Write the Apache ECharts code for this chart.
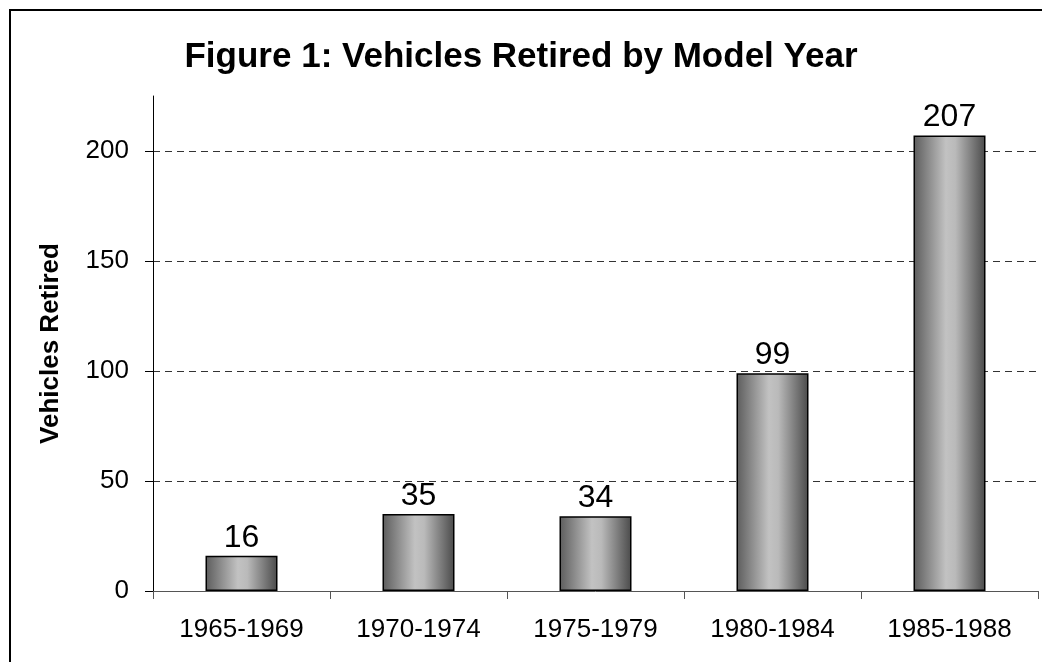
<!DOCTYPE html>
<html>
<head>
<meta charset="utf-8">
<script src="https://cdn.jsdelivr.net/npm/echarts@6/dist/echarts.min.js"></script>
<style>
html,body{margin:0;padding:0;background:#fff;}
#main{width:1042px;height:662px;}
</style>
</head>
<body>
<div id="main"></div>
<script>
const titleText = 'Figure 1: Vehicles Retired by Model Year';
const yAxisName = 'Vehicles Retired';
const categories = ['1965-1969', '1970-1974', '1975-1979', '1980-1984', '1985-1988'];
const vehiclesRetired = [16, 35, 34, 99, 207];
const yTicks = [0, 50, 100, 150, 200];

const FONT = '"Liberation Sans", Arial, Helvetica, sans-serif';
const chart = echarts.init(document.getElementById('main'), null, {renderer: 'canvas'});
chart.setOption({
  backgroundColor: '#ffffff',
  animation: false,
  title: {
    text: titleText,
    left: 'center',
    top: 35,
    textStyle: {fontFamily: FONT, fontSize: 35, fontWeight: 'bold', color: '#000'}
  },
  graphic: [{
    type: 'rect',
    z: 100,
    silent: true,
    shape: {x: 10, y: 10, width: 1100, height: 700},
    style: {fill: 'none', stroke: '#000', lineWidth: 2}
  }],
  grid: {left: 153, right: 4, top: 96, bottom: 71, containLabel: false},
  xAxis: {
    type: 'category',
    data: categories,
    axisLine: {lineStyle: {color: '#555', width: 1}},
    axisTick: {show: true, length: 8, lineStyle: {color: '#555'}},
    axisLabel: {fontFamily: FONT, fontSize: 26, color: '#000', margin: 26, interval: 0},
    splitLine: {show: false}
  },
  yAxis: {
    type: 'value',
    min: 0,
    max: 225,
    interval: 50,
    name: yAxisName,
    nameLocation: 'middle',
    nameGap: 89,
    nameTextStyle: {fontFamily: FONT, fontSize: 26, fontWeight: 'bold', color: '#000'},
    axisLine: {show: true, lineStyle: {color: '#000', width: 1}},
    axisTick: {show: true, length: 8, lineStyle: {color: '#000'}, customValues: yTicks},
    axisLabel: {fontFamily: FONT, fontSize: 26, color: '#000', margin: 24, customValues: yTicks},
    splitLine: {show: true, showMinLine: false, lineStyle: {color: '#333', type: [7, 5], width: 1}}
  },
  series: [{
    type: 'bar',
    data: vehiclesRetired,
    barWidth: 72,
    itemStyle: {
      color: new echarts.graphic.LinearGradient(0, 0, 1, 0, [
        {offset: 0, color: '#5c5c5c'},
        {offset: 0.45, color: '#c2c2c2'},
        {offset: 0.58, color: '#bababa'},
        {offset: 1, color: '#4a4a4a'}
      ]),
      borderColor: '#000',
      borderWidth: 1.5
    },
    label: {
      show: true,
      position: 'top',
      distance: 2,
      fontFamily: FONT,
      fontSize: 32,
      color: '#000'
    }
  }]
});
</script>
</body>
</html>
